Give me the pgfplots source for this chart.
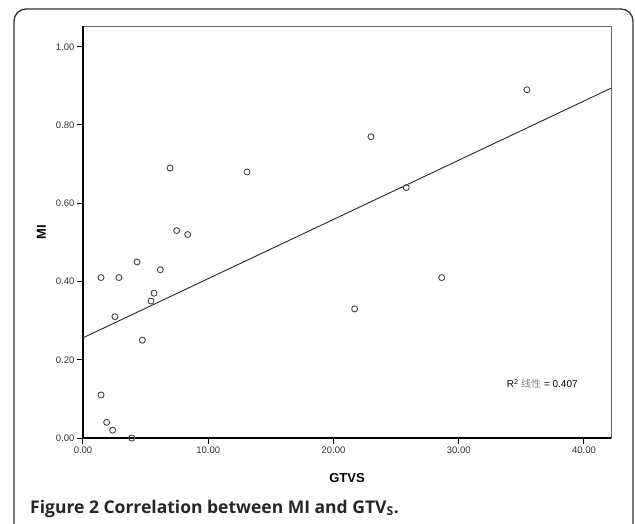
\documentclass[border=0pt]{standalone}
\usepackage{pgfplots}
\pgfplotsset{compat=1.18}
\usepackage{fontspec}
\setmainfont{Liberation Sans}
\newfontfamily\capfont{Open Sans}
\newfontfamily\cjk{Noto Sans CJK SC}
\definecolor{framec}{HTML}{333333}
\definecolor{markc}{HTML}{444444}
\begin{document}
\begin{tikzpicture}[x=1pt,y=1pt]
\clip (0,0) rectangle (635,523);
\draw[framec, line width=1.3pt, rounded corners=12pt] (14,-20) rectangle (633,514);
\begin{axis}[
  at={(83pt,85pt)}, anchor=south west,
  scale only axis, width=528pt, height=412pt,
  xmin=0, xmax=42.16, ymin=0, ymax=1.053,
  xtick={0,10,20,30,40}, ytick={0,0.2,0.4,0.6,0.8,1.0},
  tick pos=left, tick align=outside,
  major tick length=6pt,
  tick style={black, line width=1pt},
  axis line style={gray!80!black, line width=0.8pt},
  /pgf/number format/.cd, fixed, fixed zerofill, precision=2, assume math mode=true,
  /pgfplots/.cd,
  ticklabel style={font=\fontsize{9.5}{10}\selectfont, text=black!80},
  xticklabel style={yshift=1pt},
  yticklabel style={xshift=1pt},
  xlabel={\textbf{GTVS}}, ylabel={\textbf{MI}},
  label style={font=\fontsize{13}{14}\selectfont},
  xlabel style={at={(axis description cs:0.5,0)}, anchor=base, yshift=-44pt},
  ylabel style={at={(axis description cs:-0.079,0.5)}, anchor=center},
  clip=false,
]
\draw[black, line width=1.5pt] (rel axis cs:0,1) -- (rel axis cs:0,0) -- (rel axis cs:1,0);
\addplot[black!85, line width=0.9pt, no marks] coordinates {(0,0.256) (42.16,0.894)};
\addplot[only marks, mark=o, mark size=3pt, mark options={draw=markc, line width=0.9pt}] coordinates {
(6.95,0.69) (13.1,0.68) (7.48,0.53) (8.36,0.52) (4.31,0.45) (1.44,0.41) (2.87,0.41)
(6.17,0.43) (5.67,0.37) (5.43,0.35) (2.55,0.31) (4.74,0.25) (1.44,0.11) (1.89,0.04)
(2.37,0.02) (3.89,0.00) (21.69,0.33) (28.64,0.41) (22.99,0.77) (25.81,0.64) (35.45,0.89)
};
\node[anchor=center, font=\fontsize{10}{11}\selectfont] at (axis cs:36.67,0.138) {R\textsuperscript{2} {\cjk\color{gray}线性} = 0.407};
\end{axis}
\node[anchor=base west, font=\capfont\bfseries\fontsize{17.5}{20}\selectfont, text=black!85, inner sep=0pt] at (30,10) {Figure 2 Correlation between MI and GTV\textsubscript{S}.};
\end{tikzpicture}
\end{document}
